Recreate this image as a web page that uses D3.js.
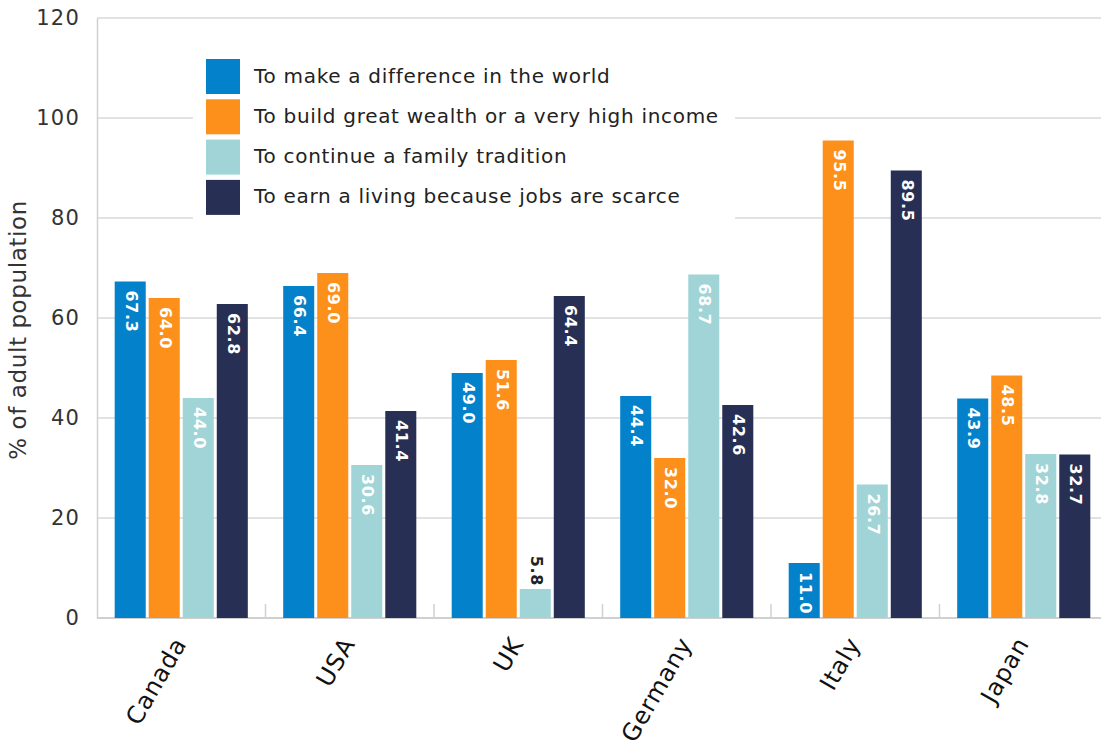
<!DOCTYPE html>
<html>
<head>
<meta charset="utf-8">
<script src="https://cdn.jsdelivr.net/npm/d3@7"></script>
<style>
  html, body { margin: 0; padding: 0; background: #fff; }
  svg { display: block; font-family: "DejaVu Sans", sans-serif; }
</style>
</head>
<body>
<svg id="chart" width="1101" height="754"></svg>
<script>
// Countries along the x axis
const countries = ["Canada", "USA", "UK", "Germany", "Italy", "Japan"];

// Motivation series (legend order)
const seriesNames = [
  "To make a difference in the world",
  "To build great wealth or a very high income",
  "To continue a family tradition",
  "To earn a living because jobs are scarce"
];
const seriesColors = ["#0381CA", "#FD8F1B", "#A0D4D7", "#272F54"];

// % of adult population, one array per series, ordered by country
const makeDifference = [67.3, 66.4, 49.0, 44.4, 11.0, 43.9];
const buildWealth    = [64.0, 69.0, 51.6, 32.0, 95.5, 48.5];
const familyTrad     = [44.0, 30.6, 5.8, 68.7, 26.7, 32.8];
const earnLiving     = [62.8, 41.4, 64.4, 42.6, 89.5, 32.7];
const seriesValues = [makeDifference, buildWealth, familyTrad, earnLiving];

const yTicks = [0, 20, 40, 60, 80, 100, 120];

const svg = d3.select("#chart");
const margin = { left: 97, top: 18, right: -7, bottom: 136 };
const W = 1101, H = 754;
const x0 = margin.left, x1 = W - margin.right;
const yTop = margin.top, yBot = H - margin.bottom;

const x = d3.scaleBand().domain(countries).range([x0, x1]).paddingInner(0).paddingOuter(0);
const xs = d3.scaleBand().domain(d3.range(seriesNames.length))
  .range([0, x.bandwidth()]).paddingOuter(0.52).paddingInner(0.088);
const y = d3.scaleLinear().domain([0, 120]).range([yBot, yTop]);

// horizontal gridlines
svg.append("g").selectAll("line").data(yTicks.filter(t => t > 0)).join("line")
  .attr("x1", x0).attr("x2", W)
  .attr("y1", d => y(d)).attr("y2", d => y(d))
  .attr("stroke", "#d9d9d9").attr("stroke-width", 1.5);

// y axis
const yAxis = svg.append("g").attr("transform", `translate(${x0},0)`)
  .call(d3.axisLeft(y).tickValues(yTicks).tickSize(0).tickPadding(17));
yAxis.select(".domain").attr("stroke", "#d0d0d0").attr("stroke-width", 1.5);
yAxis.selectAll("text").attr("font-size", 21).attr("fill", "#333")
  .attr("letter-spacing", 1.2)
  .attr("font-family", "DejaVu Sans, sans-serif");

// bottom axis line with separators between countries
svg.append("line").attr("x1", x0).attr("x2", W).attr("y1", yBot).attr("y2", yBot)
  .attr("stroke", "#d0d0d0").attr("stroke-width", 2);
svg.append("g").selectAll("line").data(countries.slice(1)).join("line")
  .attr("x1", d => x(d)).attr("x2", d => x(d))
  .attr("y1", yBot - 14).attr("y2", yBot)
  .attr("stroke", "#d0d0d0").attr("stroke-width", 1.5);

// y axis title
svg.append("text")
  .attr("transform", `translate(26,${(yTop + yBot) / 2 + 12}) rotate(-90)`)
  .attr("text-anchor", "middle").attr("font-size", 23).attr("fill", "#333")
  .attr("letter-spacing", 0.6)
  .text("% of adult population");

// country labels
svg.append("g").selectAll("text").data(countries).join("text")
  .attr("transform", d => `translate(${x(d) + x.bandwidth() / 2},${yBot + 22}) rotate(-60)`)
  .attr("text-anchor", "end").attr("font-size", 24).attr("fill", "#111")
  .attr("letter-spacing", 0.8)
  .attr("dominant-baseline", "middle")
  .text(d => d);

// bars
const groups = svg.append("g").selectAll("g").data(countries).join("g")
  .attr("transform", d => `translate(${x(d)},0)`);

groups.each(function (c, ci) {
  const g = d3.select(this);
  seriesValues.forEach((vals, si) => {
    const v = vals[ci];
    const bx = xs(si), bw = xs.bandwidth();
    g.append("rect")
      .attr("x", bx).attr("width", bw)
      .attr("y", y(v)).attr("height", y(0) - y(v))
      .attr("fill", seriesColors[si]);
    const inside = (y(0) - y(v)) > 48;
    const ty = inside ? y(v) + 9 : y(v) - 3;
    g.append("text")
      .attr("transform", `translate(${bx + bw / 2},${ty}) rotate(90)`)
      .attr("text-anchor", inside ? "start" : "end")
      .attr("dominant-baseline", "middle")
      .attr("font-size", 16).attr("font-weight", "bold")
      .attr("letter-spacing", 0.6)
      .attr("fill", inside ? "#fff" : "#222")
      .text(v.toFixed(1));
  });
});

// legend
const legend = svg.append("g");
legend.append("rect").attr("x", 193).attr("y", 50).attr("width", 542).attr("height", 172).attr("fill", "#fff");
const items = legend.selectAll("g.item").data(seriesNames).join("g")
  .attr("class", "item")
  .attr("transform", (d, i) => `translate(206,${59 + i * 40.3})`);
items.append("rect").attr("width", 34).attr("height", 35).attr("fill", (d, i) => seriesColors[i]);
items.append("text").attr("x", 48).attr("y", 18).attr("dominant-baseline", "middle")
  .attr("font-size", 20).attr("letter-spacing", 0.7)
  .attr("fill", "#222").text(d => d);
</script>
</body>
</html>
